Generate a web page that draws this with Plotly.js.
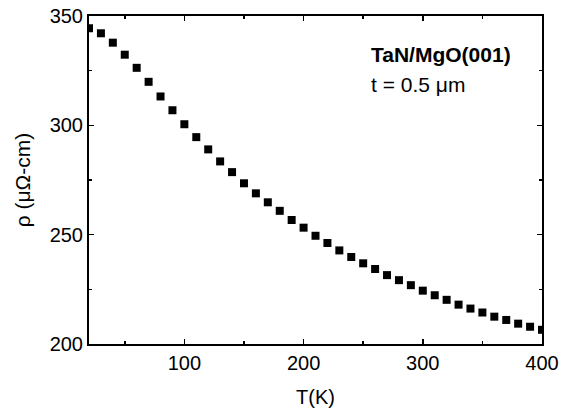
<!DOCTYPE html>
<html>
<head>
<meta charset="utf-8">
<script src="https://cdn.plot.ly/plotly-3.0.1.min.js"></script>
<style>html,body{margin:0;padding:0;background:#fff;}#chart{width:566px;height:413px;}</style>
</head>
<body>
<div id="chart"></div>
<script>
const temperature = [20,30,40,50,60,70,80,90,100,110,120,130,140,150,160,170,180,190,200,210,220,230,240,250,260,270,280,290,300,310,320,330,340,350,360,370,380,390,400];
const resistivity = [344.4,342.1,337.8,332.3,326.3,319.9,313.2,306.9,300.5,294.6,289.0,283.5,278.6,273.5,268.9,264.8,260.9,256.7,253.2,249.5,246.2,242.8,239.8,236.9,234.3,231.5,229.2,226.9,224.4,222.3,220.2,218.0,216.2,214.4,212.5,211.0,209.3,207.9,206.5];
const xTickVals = [100,200,300,400];
const yTickVals = [200,250,300,350];
const sampleLabel = "<b>TaN/MgO(001)</b>";
const thicknessLabel = "t = 0.5 μm";

const font = "Liberation Sans, Arial, Helvetica, sans-serif";

const trace = {
  x: temperature,
  y: resistivity,
  mode: "markers",
  type: "scatter",
  marker: {symbol: "square", size: 8, color: "#000"},
  cliponaxis: true,
  hoverinfo: "skip"
};

const axisCommon = {
  showline: true, linewidth: 2, linecolor: "#000", mirror: "allticks",
  ticks: "inside", ticklen: 5, tickwidth: 1.5, tickcolor: "#000",
  showgrid: false, zeroline: false,
  tickfont: {family: font, size: 20, color: "#000"},
  minor: {ticks: "inside", ticklen: 3, tickwidth: 1.5, tickcolor: "#000", showgrid: false}
};

const layout = {
  width: 566, height: 413,
  margin: {l: 89, r: 24, t: 16, b: 69},
  paper_bgcolor: "#fff", plot_bgcolor: "#fff",
  showlegend: false,
  font: {family: font, color: "#000"},
  xaxis: Object.assign({}, axisCommon, {
    range: [20, 400], tickvals: xTickVals, ticktext: xTickVals.map(String),
    minor: Object.assign({}, axisCommon.minor, {tickvals: [50,150,250,350]}),
    title: {text: "T(K)", font: {family: font, size: 20, color: "#000"}, standoff: 17}
  }),
  yaxis: Object.assign({}, axisCommon, {
    range: [200, 350], tickvals: yTickVals, ticktext: yTickVals.map(String),
    minor: Object.assign({}, axisCommon.minor, {tickvals: [225,275,325]}),
    title: {text: "ρ (μΩ-cm)", font: {family: font, size: 21, color: "#000"}, standoff: 13}
  }),
  annotations: [
    {xref: "paper", yref: "paper", x: 0.618, y: 0.882, xanchor: "left", yanchor: "middle",
     text: sampleLabel, showarrow: false, font: {family: font, size: 21, color: "#000"}},
    {xref: "paper", yref: "paper", x: 0.618, y: 0.792, xanchor: "left", yanchor: "middle",
     text: thicknessLabel, showarrow: false, font: {family: font, size: 21, color: "#000"}}
  ]
};

Plotly.newPlot("chart", [trace], layout, {staticPlot: true, displayModeBar: false});
</script>
</body>
</html>
